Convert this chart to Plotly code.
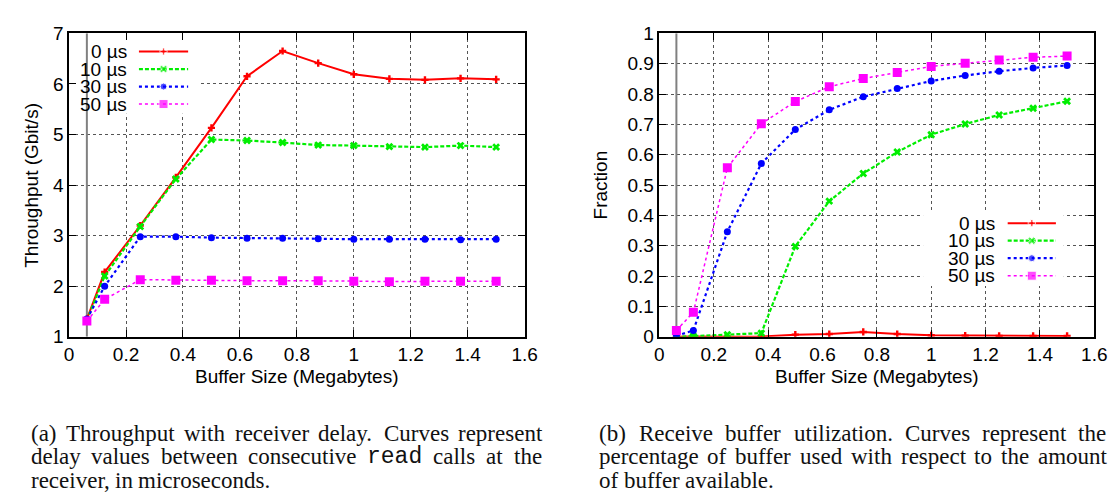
import plotly.graph_objects as go

# ---------------- data ----------------
buffer_mb = [0.0625, 0.125, 0.25, 0.375, 0.5, 0.625, 0.75, 0.875, 1.0, 1.125, 1.25, 1.375, 1.5]

series_names = ["0 µs", "10 µs", "30 µs", "50 µs"]

tput_0 = [1.35, 2.28, 3.20, 4.15, 5.13, 6.15, 6.65, 6.41, 6.19, 6.10, 6.08, 6.11, 6.09]
tput_10 = [1.33, 2.20, 3.18, 4.12, 4.90, 4.88, 4.84, 4.79, 4.78, 4.76, 4.75, 4.78, 4.75]
tput_30 = [1.35, 2.00, 2.98, 2.98, 2.96, 2.95, 2.95, 2.94, 2.93, 2.93, 2.93, 2.92, 2.93]
tput_50 = [1.31, 1.74, 2.13, 2.12, 2.12, 2.11, 2.11, 2.11, 2.10, 2.09, 2.10, 2.10, 2.10]

frac_0 = [0.0, 0.001, 0.0, 0.001, 0.007, 0.009, 0.016, 0.009, 0.005, 0.004, 0.003, 0.003, 0.003]
frac_10 = [0.0, 0.002, 0.007, 0.012, 0.298, 0.447, 0.538, 0.609, 0.666, 0.701, 0.731, 0.753, 0.776]
frac_30 = [0.003, 0.021, 0.346, 0.571, 0.683, 0.748, 0.791, 0.818, 0.843, 0.861, 0.875, 0.886, 0.894]
frac_50 = [0.021, 0.081, 0.557, 0.702, 0.775, 0.824, 0.851, 0.871, 0.891, 0.901, 0.912, 0.921, 0.925]

x_ticks = [0, 0.2, 0.4, 0.6, 0.8, 1.0, 1.2, 1.4, 1.6]
tput_ticks = [1, 2, 3, 4, 5, 6, 7]
frac_ticks = [0, 0.1, 0.2, 0.3, 0.4, 0.5, 0.6, 0.7, 0.8, 0.9, 1.0]

marker_line_x = 0.0625  # gray reference line position (MB)

x_title = "Buffer Size (Megabytes)"
left_y_title = "Throughput (Gbit/s)"
right_y_title = "Fraction"

caption_a = [
    "(a) Throughput with receiver delay. Curves represent",
    "delay values between consecutive read calls at the",
    "receiver, in microseconds.",
]
caption_b = [
    "(b) Receive buffer utilization. Curves represent the",
    "percentage of buffer used with respect to the amount",
    "of buffer available.",
]
mono_words = {"read"}

# ---------------- styles / layout constants ----------------
W, H = 1116, 492
OFF = 0
SANS = "Liberation Sans, Arial, Helvetica, sans-serif"
SERIF = "Liberation Serif, Times New Roman, serif"
MONO = "Liberation Mono, DejaVu Sans Mono, monospace"
FS = 19
CAP_FS = 23

styles = [
    dict(color="#ff0000", dash="solid", width=2.0, symbol="cross", msize=6),
    dict(color="#00ee00", dash="4px,2px", width=2.2, symbol="x", msize=7),
    dict(color="#0000ff", dash="dot", width=2.2, symbol="circle", msize=7),
    dict(color="#ff00ff", dash="dot", width=1.5, symbol="square", msize=9),
]

# plot areas in reference pixels (left, right, top, bottom)
L_AREA = (57, 520, 16, 333)
R_AREA = (657, 1099, 16, 333)
L_RANGE_Y = (tput_ticks[0], tput_ticks[-1])
R_RANGE_Y = (frac_ticks[0], frac_ticks[-1])
RANGE_X = (x_ticks[0], x_ticks[-1])


def pxx(x):
    return (x - OFF) / W


def pxy(y):
    return 1 - (y - OFF) / H


def data_x(area, px):
    return RANGE_X[0] + (px - area[0]) / (area[1] - area[0]) * (RANGE_X[1] - RANGE_X[0])


def data_y(area, yr, py):
    return yr[1] - (py - area[2]) / (area[3] - area[2]) * (yr[1] - yr[0])


fig = go.Figure()

# opaque key boxes (hide grid lines behind the keys, like gnuplot "key opaque")
KEY_BOX_L = (57, 189, 16, 100)
KEY_BOX_R = (925, 1068, 201, 280)
for box, area, yr, xa, ya in ((KEY_BOX_L, L_AREA, L_RANGE_Y, "x", "y"),
                              (KEY_BOX_R, R_AREA, R_RANGE_Y, "x2", "y2")):
    bx0, bx1 = data_x(area, box[0]), data_x(area, box[1])
    by0, by1 = data_y(area, yr, box[3]), data_y(area, yr, box[2])
    fig.add_trace(go.Scatter(
        x=[bx0, bx1, bx1, bx0, bx0], y=[by0, by0, by1, by1, by0],
        mode="lines", fill="toself", fillcolor="white", line=dict(width=0, color="white"),
        xaxis=xa, yaxis=ya, showlegend=False, hoverinfo="skip",
    ))

# gray vertical reference lines
for yr, xa, ya in ((L_RANGE_Y, "x", "y"), (R_RANGE_Y, "x2", "y2")):
    fig.add_trace(go.Scatter(
        x=[marker_line_x, marker_line_x], y=[yr[0], yr[1]], mode="lines",
        line=dict(color="#808080", width=2), xaxis=xa, yaxis=ya,
        showlegend=False, hoverinfo="skip",
    ))

left_series = [tput_0, tput_10, tput_30, tput_50]
right_series = [frac_0, frac_10, frac_30, frac_50]

for series, xa, ya in ((left_series, "x", "y"), (right_series, "x2", "y2")):
    for name, vals, st in zip(series_names, series, styles):
        fig.add_trace(go.Scatter(
            x=buffer_mb, y=vals, name=name, mode="lines+markers",
            line=dict(color=st["color"], dash=st["dash"], width=st["width"]),
            marker=dict(color=st["color"], symbol=st["symbol"], size=st["msize"]),
            xaxis=xa, yaxis=ya, showlegend=False,
        ))

# ---------------- gnuplot-like keys (text left, sample right) ----------------
LEG_L = dict(text_right=117, line_x0=128, line_x1=178, rows=[35, 53.3, 71.6, 89.9])
LEG_R = dict(text_right=999, line_x0=1011, line_x1=1060, rows=[214.3, 232.6, 250.9, 269.2])

annotations = []
for leg in (LEG_L, LEG_R):
    for name, st, ry in zip(series_names, styles, leg["rows"]):
        xm = (leg["line_x0"] + leg["line_x1"]) / 2
        fig.add_trace(go.Scatter(
            x=[leg["line_x0"], xm, leg["line_x1"]], y=[ry, ry, ry],
            mode="lines+markers",
            line=dict(color=st["color"], dash=st["dash"], width=st["width"]),
            marker=dict(color=st["color"], symbol=st["symbol"], size=[0, st["msize"], 0]),
            xaxis="x3", yaxis="y3", showlegend=False, hoverinfo="skip",
        ))
        annotations.append(dict(
            text=name, x=pxx(leg["text_right"]), y=pxy(ry), xref="paper", yref="paper",
            xanchor="right", yanchor="middle", showarrow=False, borderpad=0,
            font=dict(family=SANS, size=FS, color="black"),
        ))

# axis titles
for area in (L_AREA, R_AREA):
    annotations.append(dict(text=x_title, x=pxx((area[0] + area[1]) / 2), y=pxy(375),
                            xref="paper", yref="paper", xanchor="center", yanchor="middle",
                            showarrow=False, borderpad=0,
                            font=dict(family=SANS, size=FS, color="black")))
for title, tx, area in ((left_y_title, 18, L_AREA), (right_y_title, 597, R_AREA)):
    annotations.append(dict(text=title, x=pxx(tx), y=pxy((area[2] + area[3]) / 2),
                            xref="paper", yref="paper", xanchor="center", yanchor="middle",
                            textangle=-90, showarrow=False, borderpad=0,
                            font=dict(family=SANS, size=FS, color="black")))

# ---------------- captions (justified like LaTeX) ----------------
TIMES_W = {
    "a": 444, "b": 500, "c": 444, "d": 500, "e": 444, "f": 333, "g": 500, "h": 500,
    "i": 278, "j": 278, "k": 500, "l": 278, "m": 778, "n": 500, "o": 500, "p": 500,
    "q": 500, "r": 333, "s": 389, "t": 278, "u": 500, "v": 500, "w": 722, "x": 500,
    "y": 500, "z": 444, "C": 667, "R": 667, "T": 611, "(": 333, ")": 333, ".": 250,
    ",": 250,
}


def word_width(word):
    if word in mono_words:
        return len(word) * 0.6 * CAP_FS
    return sum(TIMES_W.get(c, 500) for c in word) / 1000 * CAP_FS


CAP_ROWS = [434, 458.5, 483]
for lines, x0, x1 in ((caption_a, 17, 536), (caption_b, 595, 1110)):
    for li, (line, ry) in enumerate(zip(lines, CAP_ROWS)):
        words = line.split(" ")
        widths = [word_width(w) for w in words]
        if li < len(lines) - 1 and len(words) > 1:
            gap = (x1 - x0 - sum(widths)) / (len(words) - 1)
        else:
            gap = 0.25 * CAP_FS
        cx = x0
        for w, ww in zip(words, widths):
            fam = MONO if w in mono_words else SERIF
            annotations.append(dict(text=w, x=pxx(cx), y=pxy(ry), xref="paper", yref="paper",
                                    xanchor="left", yanchor="middle", showarrow=False,
                                    borderpad=0,
                                    font=dict(family=fam, size=CAP_FS, color="#111111")))
            cx += ww + gap

axis_common = dict(
    showline=True, linecolor="black", linewidth=1.5, mirror="allticks",
    ticks="inside", ticklen=7, tickwidth=1, tickcolor="black",
    showgrid=True, gridcolor="#555555", griddash="dot", gridwidth=1,
    zeroline=False, tickfont=dict(family=SANS, size=FS, color="black"),
)

fig.update_layout(
    width=W, height=H,
    margin=dict(l=0, r=0, t=0, b=0),
    paper_bgcolor="white", plot_bgcolor="rgba(0,0,0,0)",
    showlegend=False,
    xaxis=dict(domain=[pxx(L_AREA[0]), pxx(L_AREA[1])], range=list(RANGE_X), tickvals=x_ticks,
               anchor="y", ticklabelstandoff=0, **axis_common),
    yaxis=dict(domain=[pxy(L_AREA[3]), pxy(L_AREA[2])], range=list(L_RANGE_Y), tickvals=tput_ticks,
               anchor="x", ticklabelstandoff=0, **axis_common),
    xaxis2=dict(domain=[pxx(R_AREA[0]), pxx(R_AREA[1])], range=list(RANGE_X), tickvals=x_ticks,
                anchor="y2", ticklabelstandoff=0, **axis_common),
    yaxis2=dict(domain=[pxy(R_AREA[3]), pxy(R_AREA[2])], range=list(R_RANGE_Y), tickvals=frac_ticks,
                anchor="x2", ticklabelstandoff=0, **axis_common),
    xaxis3=dict(domain=[0, 1], range=[OFF, W + OFF], visible=False, fixedrange=True, anchor="y3"),
    yaxis3=dict(domain=[0, 1], range=[H + OFF, OFF], visible=False, fixedrange=True, anchor="x3"),
    annotations=annotations,
)

fig.write_html("out.html")
